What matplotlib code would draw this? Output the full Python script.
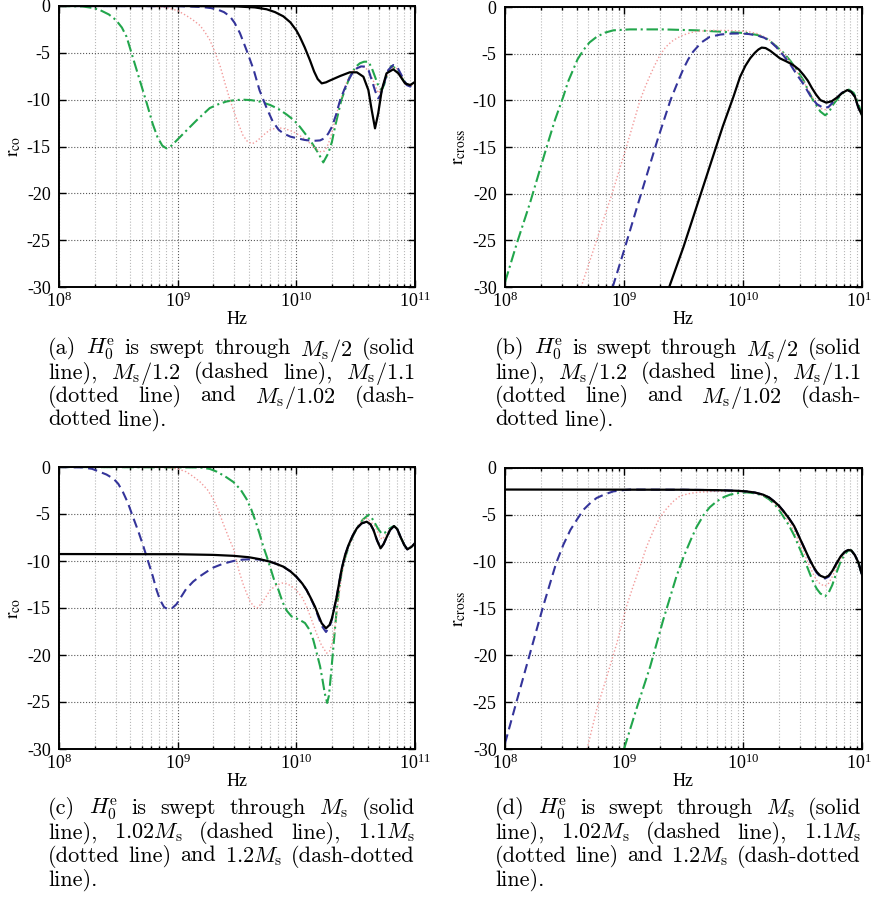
import numpy as np
import matplotlib
matplotlib.use("Agg")
import matplotlib.pyplot as plt
from matplotlib.ticker import LogLocator, LogFormatterSciNotation, NullFormatter

plt.rcParams['font.family'] = ['Liberation Serif', 'DejaVu Serif']
plt.rcParams['mathtext.fontset'] = 'stix'
plt.rcParams['axes.unicode_minus'] = False

# ---- data: log10(frequency / Hz) and reflection values ----
# panel (a): r_co, H0 through Ms/2 (solid), Ms/1.2 (dashed), Ms/1.1 (dotted), Ms/1.02 (dash-dot)
a_solid_lf = [8.0, 9.0, 9.5, 9.65, 9.75, 9.82, 9.89, 9.95, 10.0, 10.03, 10.07, 10.115, 10.15, 10.18, 10.214,
              10.25, 10.28, 10.37, 10.45, 10.51, 10.565, 10.607, 10.635, 10.663, 10.69, 10.72, 10.76, 10.817,
              10.86, 10.916, 10.96, 11.0]
a_solid_r = [0, 0, -0.05, -0.15, -0.35, -0.65, -1.1, -1.75, -2.6, -3.3, -4.4, -5.8, -7.0, -7.8, -8.26,
             -8.15, -7.97, -7.47, -7.08, -7.08, -7.55, -8.97, -11.1, -13.06, -11.46, -8.97, -7.19, -6.76,
             -7.19, -8.26, -8.44, -8.1]
a_dash_lf = [8.0, 9.0, 9.2, 9.28, 9.33, 9.39, 9.44, 9.48, 9.525, 9.58, 9.64, 9.69, 9.75, 9.80, 9.85, 9.89,
             9.95, 10.0, 10.07, 10.14, 10.20, 10.24, 10.27, 10.30, 10.335, 10.37, 10.405, 10.44, 10.475, 10.51,
             10.545, 10.58, 10.61, 10.635, 10.665, 10.69, 10.71, 10.73, 10.775, 10.817, 10.85, 10.87, 10.93,
             10.96, 11.0]
a_dash_r = [0, -0.02, -0.1, -0.22, -0.35, -0.65, -1.1, -1.8, -2.9, -4.7, -6.8, -9.0, -10.9, -12.3, -13.2, -13.6,
            -13.95, -14.1, -14.3, -14.4, -14.35, -14.1, -13.6, -12.9, -11.6, -10.0, -8.9, -7.9, -7.1, -6.65,
            -6.45, -6.47, -6.9, -7.9, -9.1, -9.86, -9.5, -8.6, -6.83, -6.3, -6.5, -7.0, -8.44,
            -8.6, -8.2]
a_dot_lf = [8.0, 8.8, 8.9, 9.0, 9.07, 9.13, 9.19, 9.23, 9.27, 9.31, 9.36, 9.40, 9.44, 9.50, 9.55, 9.59, 9.63,
            9.67, 9.72, 9.78, 9.84, 9.89, 9.95, 10.0, 10.06, 10.115, 10.16, 10.2, 10.235, 10.26, 10.29, 10.326,
            10.36, 10.40, 10.435, 10.47, 10.52, 10.565, 10.60, 10.635, 10.665, 10.69, 10.715, 10.745, 10.80,
            10.84, 10.87, 10.915, 10.955, 11.0]
a_dot_r = [0, -0.05, -0.15, -0.5, -1.0, -1.5, -2.1, -2.8, -3.6, -4.8, -6.5, -8.3, -10.0, -12.2, -13.8, -14.5, -14.7,
           -14.4, -13.8, -13.2, -13.0, -13.06, -13.3, -13.6, -14.1, -14.66, -15.2, -15.55, -15.5, -15.0, -14.0, -12.2,
           -10.5, -8.97, -7.8, -7.0, -6.6, -6.5, -6.8, -7.55, -8.5, -9.3, -8.9, -7.9, -6.6,
           -6.6, -7.0, -8.3, -8.6, -8.2]
a_dd_lf = [8.0, 8.2, 8.28, 8.34, 8.42, 8.48, 8.53, 8.57, 8.62, 8.68, 8.74, 8.79, 8.83, 8.87, 8.905, 8.94, 8.98,
           9.05, 9.16, 9.27, 9.34, 9.41, 9.48, 9.55, 9.62, 9.69, 9.78, 9.85, 9.92, 9.98, 10.03, 10.115, 10.185,
           10.227, 10.27, 10.30, 10.326, 10.38, 10.45, 10.50, 10.535, 10.57, 10.607, 10.635, 10.663, 10.69,
           10.72, 10.74, 10.76, 10.80, 10.845, 10.90, 10.945, 11.0]
a_dd_r = [0, -0.05, -0.2, -0.4, -0.9, -1.5, -2.3, -3.3, -5.4, -7.9, -10.4, -12.6, -14.0, -14.9, -15.2, -15.0, -14.5,
          -13.6, -12.2, -10.9, -10.5, -10.2, -10.05, -10.0, -10.05, -10.2, -10.57, -11.0, -11.6, -12.2, -12.9, -14.3,
          -15.7, -16.7, -15.7, -14.5, -12.9, -10.0, -7.55, -6.5, -6.12, -5.95, -5.94, -6.6, -7.55, -8.5,
          -8.97, -8.4, -7.55, -6.4, -6.7, -7.9, -8.6, -8.2]

# panel (b): r_cross, same sweep
b_solid_lf = [9.38, 9.50, 9.61, 9.72, 9.83, 9.92, 9.975, 10.02, 10.06, 10.10, 10.13, 10.157, 10.19, 10.23, 10.27,
              10.31, 10.36, 10.42, 10.47, 10.51, 10.545, 10.58, 10.615, 10.65, 10.70, 10.745, 10.79, 10.835,
              10.877, 10.91, 10.94, 10.97, 11.0]
b_solid_r = [-30, -25.7, -21.4, -17.1, -12.8, -9.6, -7.5, -6.3, -5.5, -4.9, -4.55, -4.35, -4.4, -4.7, -5.1,
             -5.5, -5.8, -6.2, -6.7, -7.3, -7.9, -8.7, -9.4, -9.97, -10.25, -10.1, -9.7, -9.2,
             -8.9, -9.1, -9.6, -10.8, -11.6]
b_dash_lf = [8.905, 9.0, 9.12, 9.28, 9.39, 9.45, 9.50, 9.54, 9.58, 9.65, 9.72, 9.81, 9.9, 9.98, 10.05, 10.12,
             10.18, 10.23, 10.28, 10.34, 10.40, 10.45, 10.51, 10.57, 10.62, 10.68, 10.72, 10.77, 10.83, 10.877,
             10.91, 10.94, 10.97, 11.0]
b_dash_r = [-30, -26.1, -21, -14.3, -10, -8.1, -6.6, -5.6, -4.8, -3.8, -3.2, -2.95, -2.85, -2.83, -2.9, -3.05,
            -3.3, -3.7, -4.3, -5.2, -6.2, -7.2, -8.3, -9.6, -10.4, -10.85, -10.7, -10.0, -9.2, -8.9,
            -9.1, -9.6, -10.8, -11.6]
b_dot_lf = [8.64, 8.77, 8.90, 9.02, 9.135, 9.18, 9.22, 9.26, 9.30, 9.35, 9.40, 9.45, 9.50, 9.56, 9.62, 9.75,
            9.9, 10.03, 10.12, 10.18, 10.23, 10.28, 10.34, 10.40, 10.45, 10.51, 10.57, 10.62, 10.66, 10.69,
            10.72, 10.76, 10.82, 10.877, 10.91, 10.94, 10.97, 11.0]
b_dot_r = [-30, -25, -20, -15, -10, -8.5, -7.3, -6.2, -5.2, -4.3, -3.7, -3.3, -3.0, -2.75, -2.6, -2.5,
           -2.52, -2.6, -2.85, -3.2, -3.6, -4.2, -5.0, -5.9, -6.9, -8.0, -9.4, -10.4, -10.9, -11.0,
           -10.8, -10.2, -9.3, -8.9, -9.1, -9.6, -10.8, -11.6]
b_dd_lf = [8.0, 8.1, 8.21, 8.35, 8.42, 8.49, 8.53, 8.57, 8.61, 8.66, 8.71, 8.77, 8.84, 8.91, 9.05, 9.33, 9.61,
           9.89, 10.03, 10.12, 10.20, 10.28, 10.34, 10.40, 10.46, 10.51, 10.55, 10.59, 10.62, 10.65, 10.69,
           10.72, 10.76, 10.82, 10.86, 10.89, 10.93, 10.96, 11.0]
b_dd_r = [-29.5, -25.3, -21.0, -15.0, -12.1, -9.6, -8.0, -6.8, -5.6, -4.6, -3.8, -3.2, -2.75, -2.5, -2.4, -2.4, -2.5,
          -2.7, -2.8, -3.0, -3.4, -4.2, -4.9, -5.8, -6.9, -7.9, -9.0, -10.0, -10.6, -11.2, -11.6,
          -11.3, -10.4, -9.45, -9.0, -8.85, -9.2, -10.0, -11.6]

# panel (c): r_co, H0 through Ms (solid), 1.02Ms (dashed), 1.1Ms (dotted), 1.2Ms (dash-dot)
c_solid_lf = [8.0, 9.0, 9.3, 9.47, 9.6, 9.69, 9.778, 9.83, 9.89, 9.95, 10.0, 10.05, 10.087, 10.12, 10.157, 10.19,
              10.214, 10.25, 10.28, 10.30, 10.32, 10.34, 10.38, 10.41, 10.44, 10.475, 10.51, 10.55, 10.593,
              10.625, 10.65, 10.68, 10.71, 10.735, 10.76, 10.79, 10.823, 10.85, 10.88, 10.91, 10.935, 10.97, 11.0]
c_solid_r = [-9.26, -9.28, -9.35, -9.45, -9.6, -9.8, -10.07, -10.3, -10.6, -11.1, -11.67, -12.4, -13.1, -13.9, -14.86,
             -15.9, -16.63, -17.16, -16.8, -16.1, -15.0, -13.8, -10.96, -9.4, -8.3, -7.3, -6.52, -6.0, -5.82,
             -6.1, -6.7, -7.8, -8.65, -8.2, -7.5, -6.7, -6.28, -6.6, -7.5, -8.3, -8.76, -8.5, -8.1]
c_dash_lf = [8.0, 8.2, 8.28, 8.34, 8.40, 8.46, 8.50, 8.54, 8.58, 8.62, 8.67, 8.71, 8.75, 8.79, 8.82, 8.85, 8.885,
             8.92, 8.955, 8.99, 9.03, 9.07, 9.13, 9.19, 9.25, 9.30, 9.38, 9.47, 9.55, 9.64, 9.69, 9.778, 9.83,
             9.89, 9.95, 10.0, 10.05, 10.087, 10.12, 10.157, 10.19, 10.214, 10.25, 10.28, 10.30, 10.32, 10.34,
             10.38, 10.41, 10.44, 10.475, 10.51, 10.55, 10.593, 10.625, 10.65, 10.68, 10.71, 10.735, 10.76,
             10.79, 10.823, 10.85, 10.88, 10.91, 10.935, 10.97, 11.0]
c_dash_r = [0, -0.05, -0.2, -0.5, -0.8, -1.25, -1.8, -2.7, -3.8, -5.2, -6.9, -8.4, -10.0, -11.6, -13.0, -14.1, -14.9,
            -15.15, -15.0, -14.6, -13.8, -13.0, -12.2, -11.6, -11.1, -10.7, -10.3, -10.0, -9.85, -9.8, -9.85, -10.07,
            -10.3, -10.6, -11.1, -11.67, -12.4, -13.1, -13.95, -14.95, -16.1, -16.9, -17.55, -17.0, -16.2, -15.0,
            -13.8, -10.96, -9.4, -8.3, -7.3, -6.52, -6.0, -5.82, -6.1, -6.7, -7.8, -8.65, -8.2, -7.5,
            -6.7, -6.28, -6.6, -7.5, -8.3, -8.76, -8.5, -8.1]
c_dot_lf = [8.0, 8.9, 9.0, 9.07, 9.13, 9.19, 9.25, 9.30, 9.34, 9.38, 9.43, 9.47, 9.52, 9.55, 9.58, 9.61, 9.64,
            9.67, 9.70, 9.74, 9.778, 9.83, 9.88, 9.92, 9.96, 10.0, 10.05, 10.087, 10.13, 10.17, 10.21, 10.255,
            10.28, 10.30, 10.32, 10.34, 10.38, 10.41, 10.44, 10.51, 10.55, 10.593, 10.625, 10.663, 10.69, 10.72,
            10.745, 10.79, 10.823, 10.85, 10.88, 10.91, 10.935, 10.97, 11.0]
c_dot_r = [0, -0.05, -0.2, -0.5, -1.0, -1.6, -2.4, -3.4, -4.5, -5.9, -7.5, -8.7, -11.2, -12.4, -13.4, -14.3, -14.8,
           -15.0, -14.6, -13.9, -13.1, -12.6, -12.35, -12.4, -12.7, -13.1, -13.9, -14.86, -16.3, -17.7, -18.9, -19.8,
           -19.6, -18.8, -17.5, -15.6, -11.7, -9.8, -8.5, -6.5, -5.7, -5.46, -5.8, -6.3, -7.0, -7.7,
           -7.4, -6.6, -6.28, -6.6, -7.5, -8.3, -8.76, -8.5, -8.1]
c_dd_lf = [8.0, 9.19, 9.27, 9.33, 9.40, 9.47, 9.53, 9.58, 9.62, 9.66, 9.69, 9.72, 9.75, 9.778, 9.81, 9.85, 9.885,
           9.92, 9.96, 10.0, 10.04, 10.073, 10.11, 10.143, 10.17, 10.2, 10.22, 10.24, 10.26, 10.275, 10.29, 10.31,
           10.325, 10.34, 10.36, 10.38, 10.41, 10.44, 10.475, 10.51, 10.56, 10.607, 10.635, 10.663, 10.69, 10.72,
           10.745, 10.79, 10.823, 10.85, 10.88, 10.91, 10.935, 10.97, 11.0]
c_dd_r = [0, -0.05, -0.2, -0.5, -1.0, -1.6, -2.4, -3.4, -4.5, -5.9, -7.1, -8.4, -9.5, -10.6, -11.9, -13.1, -14.4,
          -15.3, -15.9, -16.1, -16.35, -16.6, -17.3, -18.4, -19.7, -21.2, -22.6, -24.1, -25.1, -24.3, -22.3, -19.5,
          -17.3, -15.2, -13.1, -11.3, -9.7, -8.5, -7.4, -6.5, -5.6, -5.1, -5.4, -6.0, -6.6, -7.1,
          -7.0, -6.5, -6.28, -6.6, -7.5, -8.3, -8.76, -8.5, -8.1]

# panel (d): r_cross, same sweep as (c)
d_solid_lf = [8.0, 9.5, 9.8, 9.95, 10.03, 10.10, 10.17, 10.22, 10.26, 10.30, 10.34, 10.385, 10.43, 10.47, 10.51,
              10.55, 10.59, 10.62, 10.65, 10.69, 10.72, 10.75, 10.785, 10.82, 10.855, 10.885, 10.91, 10.94,
              10.97, 11.0]
d_solid_r = [-2.3, -2.32, -2.37, -2.43, -2.5, -2.62, -2.85, -3.15, -3.55, -4.0, -4.6, -5.35, -6.2, -7.3, -8.4,
             -9.5, -10.5, -11.1, -11.5, -11.7, -11.5, -11.0, -10.2, -9.45, -8.95, -8.75, -8.8, -9.3,
             -10.1, -11.4]
d_dash_lf = [8.0, 8.05, 8.10, 8.21, 8.32, 8.43, 8.49, 8.55, 8.61, 8.66, 8.72, 8.77, 8.84, 8.91, 8.98, 9.05, 9.5,
             9.8, 9.95, 10.03, 10.10, 10.17, 10.22, 10.26, 10.30, 10.34, 10.385, 10.43, 10.47, 10.51, 10.55,
             10.59, 10.62, 10.65, 10.69, 10.72, 10.75, 10.785, 10.82, 10.855, 10.885, 10.91, 10.94, 10.97, 11.0]
d_dash_r = [-29.4, -27.1, -24.8, -19.8, -14.8, -10.15, -8.2, -6.6, -5.4, -4.45, -3.7, -3.2, -2.8, -2.5, -2.38, -2.3,
            -2.32, -2.37, -2.43, -2.5, -2.62, -2.85, -3.15, -3.55, -4.0, -4.6, -5.35, -6.2, -7.3, -8.4, -9.55,
            -10.6, -11.2, -11.6, -11.8, -11.6, -11.05, -10.2, -9.45, -8.95, -8.75, -8.8, -9.3, -10.1, -11.4]
d_dot_lf = [8.69, 8.77, 8.855, 8.94, 9.02, 9.08, 9.135, 9.19, 9.25, 9.30, 9.36, 9.42, 9.47, 9.54, 9.61, 9.75, 9.9,
            10.03, 10.10, 10.17, 10.22, 10.26, 10.30, 10.34, 10.385, 10.43, 10.47, 10.51, 10.55, 10.59, 10.62,
            10.65, 10.69, 10.72, 10.75, 10.785, 10.82, 10.855, 10.885, 10.91, 10.94, 10.97, 11.0]
d_dot_r = [-30, -25.8, -22.3, -18.7, -14.8, -12.5, -10.5, -8.4, -6.6, -5.3, -4.3, -3.5, -3.0, -2.75, -2.6, -2.5, -2.48,
           -2.55, -2.68, -2.9, -3.25, -3.7, -4.25, -4.9, -5.75, -6.7, -7.9, -9.0, -10.2, -11.3, -12.0,
           -12.4, -12.6, -12.3, -11.6, -10.6, -9.7, -9.0, -8.75, -8.8, -9.3, -10.1, -11.4]
d_dd_lf = [9.0, 9.11, 9.22, 9.33, 9.44, 9.50, 9.56, 9.61, 9.67, 9.72, 9.78, 9.84, 9.89, 9.96, 10.03, 10.10, 10.17,
           10.22, 10.26, 10.30, 10.34, 10.385, 10.43, 10.47, 10.51, 10.55, 10.59, 10.62, 10.65, 10.69, 10.72,
           10.75, 10.785, 10.82, 10.855, 10.885, 10.91, 10.94, 10.97, 11.0]
d_dd_r = [-30, -25.5, -21.2, -16.2, -11.6, -9.5, -7.7, -6.3, -5.0, -4.2, -3.55, -3.1, -2.85, -2.68, -2.6, -2.7, -2.95,
          -3.35, -3.8, -4.4, -5.2, -6.1, -7.2, -8.4, -9.6, -10.9, -12.2, -12.9, -13.4, -13.7, -13.3,
          -12.5, -11.2, -10.0, -9.2, -8.8, -8.8, -9.3, -10.1, -11.4]

ylabels = [r"$\mathrm{r}_{\mathrm{co}}$", r"$\mathrm{r}_{\mathrm{cross}}$",
           r"$\mathrm{r}_{\mathrm{co}}$", r"$\mathrm{r}_{\mathrm{cross}}$"]
yticks = [0, -5, -10, -15, -20, -25, -30]

captions = [
    ["(a) $H_0^{\\mathrm{e}}$ is swept through $M_{\\mathrm{s}}/2$ (solid",
     "line), $M_{\\mathrm{s}}/1.2$ (dashed line), $M_{\\mathrm{s}}/1.1$",
     "(dotted line) and $M_{\\mathrm{s}}/1.02$ (dash-",
     "dotted line)."],
    ["(b) $H_0^{\\mathrm{e}}$ is swept through $M_{\\mathrm{s}}/2$ (solid",
     "line), $M_{\\mathrm{s}}/1.2$ (dashed line), $M_{\\mathrm{s}}/1.1$",
     "(dotted line) and $M_{\\mathrm{s}}/1.02$ (dash-",
     "dotted line)."],
    ["(c) $H_0^{\\mathrm{e}}$ is swept through $M_{\\mathrm{s}}$ (solid",
     "line), $1.02M_{\\mathrm{s}}$ (dashed line), $1.1M_{\\mathrm{s}}$",
     "(dotted line) and $1.2M_{\\mathrm{s}}$ (dash-dotted",
     "line)."],
    ["(d) $H_0^{\\mathrm{e}}$ is swept through $M_{\\mathrm{s}}$ (solid",
     "line), $1.02M_{\\mathrm{s}}$ (dashed line), $1.1M_{\\mathrm{s}}$",
     "(dotted line) and $1.2M_{\\mathrm{s}}$ (dash-dotted",
     "line)."],
]

panels = [
    [(a_solid_lf, a_solid_r), (a_dash_lf, a_dash_r), (a_dot_lf, a_dot_r), (a_dd_lf, a_dd_r)],
    [(b_solid_lf, b_solid_r), (b_dash_lf, b_dash_r), (b_dot_lf, b_dot_r), (b_dd_lf, b_dd_r)],
    [(c_solid_lf, c_solid_r), (c_dash_lf, c_dash_r), (c_dot_lf, c_dot_r), (c_dd_lf, c_dd_r)],
    [(d_solid_lf, d_solid_r), (d_dash_lf, d_dash_r), (d_dot_lf, d_dot_r), (d_dd_lf, d_dd_r)],
]

# line styles: solid, dashed, dotted, dash-dotted
styles = [
    dict(color="black", lw=1.6, ls="-"),
    dict(color="#34349a", lw=1.5, dashes=(4.5, 2.5)),
    dict(color="#f29a9a", lw=1.0, dashes=(1, 1.6)),
    dict(color="#22a64c", lw=1.5, dashes=(5.5, 1.8, 1, 1.8)),
]

W, H = 871, 898
fig = plt.figure(figsize=(W / 100, H / 100), dpi=100)

# axes boxes in pixels: left, top, right, bottom
boxes = [(59, 6, 415, 287), (505, 7, 862, 287), (59, 467, 415, 749), (505, 468, 862, 749)]

for k, (l, t, r, b) in enumerate(boxes):
    ax = fig.add_axes([l / W, 1 - b / H, (r - l) / W, (b - t) / H])
    for (lf, val), st in zip(panels[k][::-1], styles[::-1]):
        ax.plot(10 ** np.array(lf), val, solid_joinstyle="round", **st)
    ax.set_xscale("log")
    ax.set_xlim(1e8, 1e11)
    ax.set_ylim(-30, 0)
    ax.set_yticks(yticks)
    ax.set_yticklabels([str(v) for v in yticks])
    ax.xaxis.set_major_locator(LogLocator(base=10, numticks=10))
    ax.xaxis.set_major_formatter(LogFormatterSciNotation())
    ax.xaxis.set_minor_locator(LogLocator(base=10, subs=np.arange(2, 10), numticks=20))
    ax.xaxis.set_minor_formatter(NullFormatter())
    ax.grid(True, which="major", ls=":", color="0.35", lw=0.8)
    ax.grid(True, which="minor", axis="x", ls=":", color="0.72", lw=0.8)
    ax.tick_params(which="both", direction="in", top=True, right=True, labelsize=13, width=1.0)
    ax.tick_params(which="major", length=5)
    ax.tick_params(which="minor", length=2.5)
    ax.tick_params(axis="y", pad=6)
    ax.tick_params(axis="x", pad=3)
    for s in ax.spines.values():
        s.set_linewidth(1.4)
    ax.set_xlabel("Hz", fontsize=13, labelpad=0)
    ax.set_ylabel(ylabels[k], fontsize=14, labelpad=3)

# captions, justified to the axes width like the typeset original
cap_left = [48, 495, 48, 495]
cap_right = [415, 861, 415, 861]
cap_top = [346, 346, 806, 806]
line_h = 23.8
renderer = fig.canvas.get_renderer()
for k in range(4):
    for i, line in enumerate(captions[k]):
        yc = cap_top[k] + i * line_h
        words = line.split(" ")
        texts = []
        for w in words:
            t = fig.text(0, 1 - yc / H, w, fontsize=16, family="cmr10", math_fontfamily="cm",
                         va="center_baseline", ha="left")
            texts.append(t)
        widths = [t.get_window_extent(renderer).width for t in texts]
        last = i == len(captions[k]) - 1
        if last or len(words) == 1:
            gap = 6
        else:
            gap = (cap_right[k] - cap_left[k] - sum(widths)) / (len(words) - 1)
        x = cap_left[k]
        for t, wd in zip(texts, widths):
            t.set_x(x / W)
            x += wd + gap

fig.savefig("out.png", dpi=100)
